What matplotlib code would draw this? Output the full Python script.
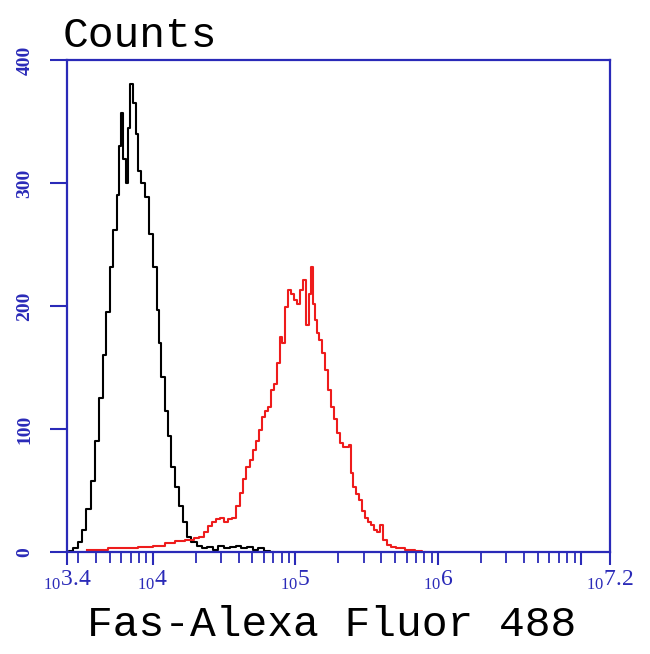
import matplotlib
matplotlib.use('Agg')
import matplotlib.pyplot as plt
import numpy as np

# log10 channel positions and counts
ctrl_log = [3.40, 3.43, 3.46, 3.49, 3.52, 3.55, 3.58, 3.61, 3.64, 3.66,
            3.69, 3.71, 3.74, 3.76, 3.77, 3.79, 3.80, 3.82, 3.83, 3.85,
            3.87, 3.89, 3.91, 3.93, 3.96, 3.99, 4.02, 4.04, 4.05, 4.07,
            4.10, 4.12, 4.14, 4.17, 4.20, 4.23, 4.25, 4.29, 4.33, 4.36,
            4.40, 4.44, 4.48, 4.52, 4.56, 4.60, 4.64, 4.68, 4.72, 4.76,
            4.80, 4.84]
ctrl_counts = [0, 1, 3, 8, 18, 35, 58, 90, 125, 160,
               195, 232, 262, 290, 330, 357, 320, 300, 345, 381,
               365, 340, 310, 300, 289, 259, 232, 197, 170, 142,
               115, 94, 69, 53, 37, 24, 12, 8, 5, 3,
               4, 2, 5, 3, 4, 5, 3, 4, 2, 3,
               1, 0]

fas_log = [3.540, 3.631, 3.736, 3.841, 3.946, 4.051, 4.121, 4.191, 4.261, 4.310,
           4.345, 4.373, 4.401, 4.429, 4.457, 4.485, 4.513, 4.541, 4.569, 4.597,
           4.625, 4.646, 4.667, 4.695, 4.716, 4.737, 4.758, 4.779, 4.800, 4.821,
           4.842, 4.863, 4.884, 4.898, 4.919, 4.940, 4.961, 4.982, 5.003, 5.024,
           5.045, 5.066, 5.087, 5.101, 5.115, 5.129, 5.143, 5.157, 5.178, 5.199,
           5.220, 5.240, 5.261, 5.282, 5.303, 5.324, 5.345, 5.366, 5.380, 5.394,
           5.415, 5.436, 5.457, 5.478, 5.499, 5.520, 5.541, 5.562, 5.583, 5.604,
           5.625, 5.653, 5.681, 5.730, 5.800, 5.870, 5.905]
fas_counts = [2, 2, 3, 3, 4, 5, 7, 9, 10, 11,
              12, 16, 21, 24, 27, 28, 24, 27, 28, 37,
              48, 59, 69, 75, 83, 90, 99, 110, 115, 118,
              132, 137, 154, 175, 170, 199, 213, 210, 205, 202,
              213, 221, 185, 210, 232, 202, 189, 178, 172, 162,
              148, 132, 118, 108, 97, 89, 85, 85, 87, 64,
              53, 47, 42, 33, 28, 24, 22, 18, 16, 22,
              10, 6, 4, 3, 2, 1, 0]

x_tick_exp = [3.4, 4, 5, 6, 7, 7.2]
x_tick_text = ['3.4', '4', '5', '6', '', '7.2']
y_ticks = [0, 100, 200, 300, 400]

blue = '#2a2ab8'

fig = plt.figure(figsize=(6.5, 6.54), dpi=100)
ax = fig.add_axes([0.103, 0.156, 0.835, 0.752])

ax.plot(10 ** np.array(ctrl_log), ctrl_counts, color='black', lw=1.5,
        drawstyle='steps-mid')
ax.plot(10 ** np.array(fas_log), fas_counts, color='#ee1c1c', lw=1.5,
        drawstyle='steps-mid')

ax.set_xscale('log')
ax.set_xlim(10 ** 3.4, 10 ** 7.2)
ax.set_ylim(0, 400)

for s in ax.spines.values():
    s.set_color(blue)
    s.set_linewidth(1.6)

ax.set_xticks([10 ** e for e in x_tick_exp])
ax.set_xticklabels([r'$_{\mathregular{10}}\mathregular{%s}$' % t if t else ''
                    for t in x_tick_text])
ax.xaxis.set_minor_locator(matplotlib.ticker.LogLocator(base=10, subs=np.arange(2, 10)))
ax.xaxis.set_minor_formatter(matplotlib.ticker.NullFormatter())
ax.tick_params(axis='x', which='major', direction='out', length=9, width=1.5,
               colors=blue, labelsize=17, pad=3)
ax.tick_params(axis='x', which='minor', direction='out', length=8, width=1.3,
               colors=blue)
for lab in ax.get_xticklabels():
    lab.set_family('Liberation Serif')

ax.set_yticks(y_ticks)
ax.set_yticklabels([str(v) for v in y_ticks], rotation=90, va='center',
                   family='Liberation Serif', fontweight='bold')
ax.tick_params(axis='y', direction='out', length=12, width=1.5, colors=blue,
               labelsize=14, pad=12)

fig.text(63 / 650, 1 - 36 / 654, 'Counts', family='Liberation Mono',
         fontsize=31, ha='left', va='center')
fig.text(0.51, 1 - 625 / 654, 'Fas-Alexa Fluor 488', family='Liberation Mono',
         fontsize=31, ha='center', va='center')

fig.savefig('out.png', dpi=100, facecolor='white')
